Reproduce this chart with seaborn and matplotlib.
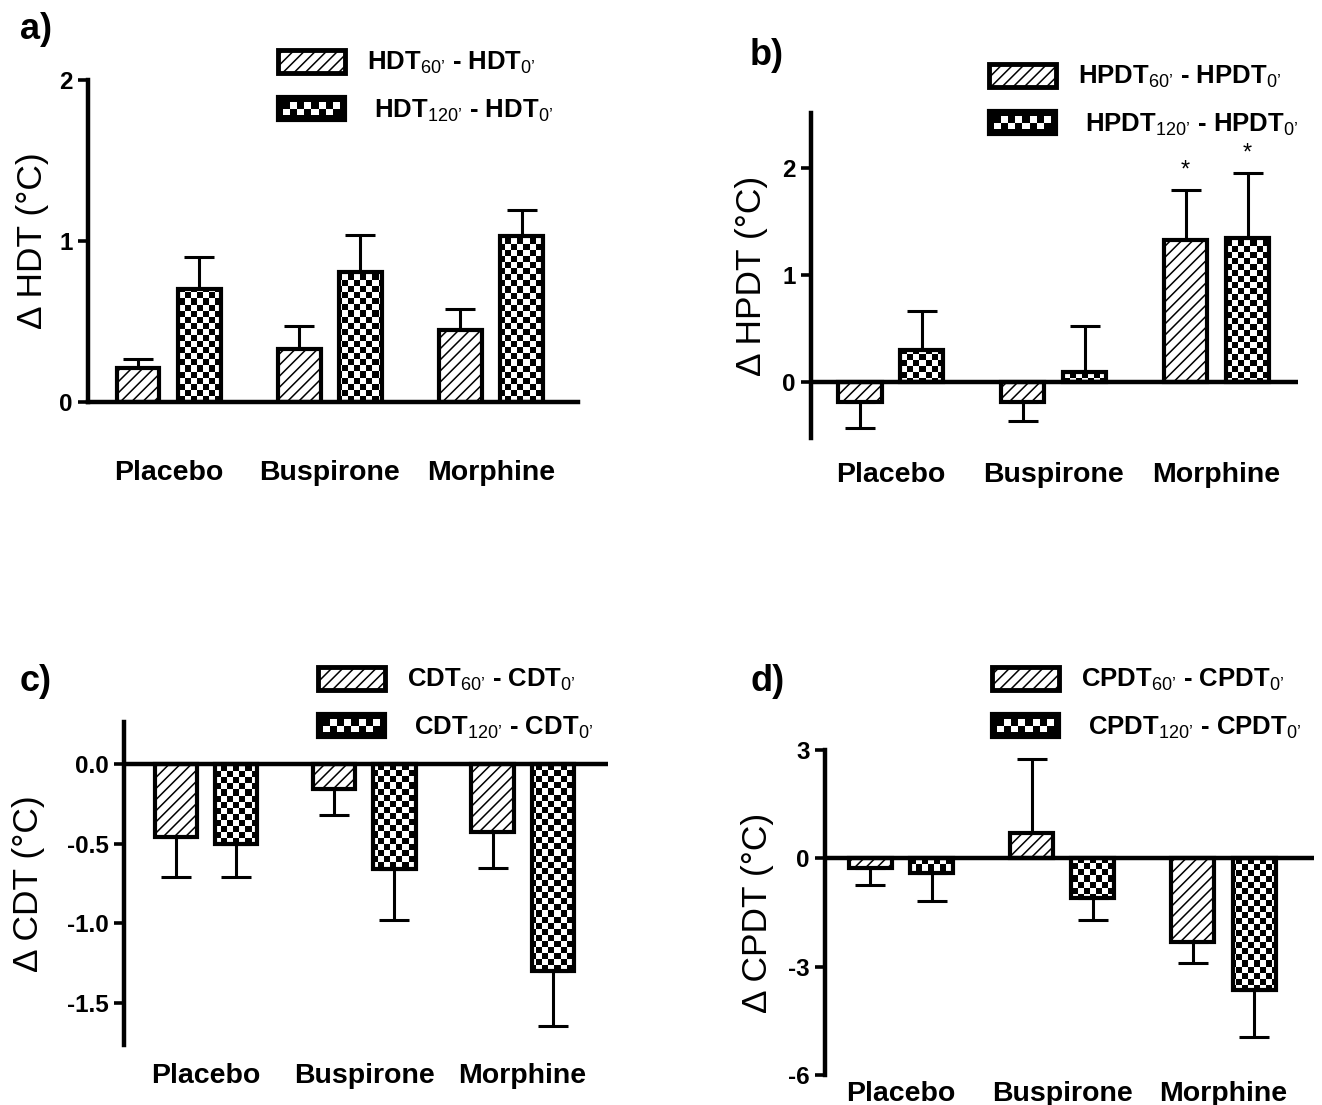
"""Thermal threshold changes after placebo, buspirone and morphine (4 panels)."""

import matplotlib

matplotlib.use("Agg")
import matplotlib.pyplot as plt
import numpy as np
import pandas as pd
import seaborn as sns
from matplotlib.legend_handler import HandlerBase
from matplotlib.patches import Patch, Rectangle
from matplotlib.ticker import FormatStrFormatter

sns.set_theme(style="white", context="notebook")
plt.rcParams["font.family"] = ["Liberation Sans", "DejaVu Sans"]
plt.rcParams["mathtext.fontset"] = "custom"
plt.rcParams["mathtext.rm"] = "Liberation Sans"
plt.rcParams["mathtext.default"] = "rm"
plt.rcParams["axes.unicode_minus"] = False
plt.rcParams["hatch.linewidth"] = 1.1
for key in ["text.color", "axes.labelcolor", "xtick.color", "ytick.color"]:
    plt.rcParams[key] = "black"

# ---- data (mean change and SEM) ----
DRUGS = ["Placebo", "Buspirone", "Morphine"]
INTERVALS = ["60", "120"]

HDT_60 = [0.21, 0.33, 0.45]
HDT_60_SEM = [0.06, 0.14, 0.13]
HDT_120 = [0.70, 0.81, 1.03]
HDT_120_SEM = [0.20, 0.23, 0.16]

HPDT_60 = [-0.19, -0.19, 1.33]
HPDT_60_SEM = [0.25, 0.18, 0.47]
HPDT_120 = [0.30, 0.09, 1.35]
HPDT_120_SEM = [0.36, 0.43, 0.61]
HPDT_STARS_60 = ["", "", "*"]
HPDT_STARS_120 = ["", "", "*"]

CDT_60 = [-0.46, -0.16, -0.43]
CDT_60_SEM = [0.25, 0.16, 0.22]
CDT_120 = [-0.50, -0.66, -1.30]
CDT_120_SEM = [0.21, 0.32, 0.34]

CPDT_60 = [-0.28, 0.71, -2.31]
CPDT_60_SEM = [0.46, 2.03, 0.60]
CPDT_120 = [-0.40, -1.11, -3.65]
CPDT_120_SEM = [0.77, 0.60, 1.29]

NO_STARS = ["", "", ""]

W, H = 1322, 1105

PANELS = [
    dict(letter="a)", name="HDT", m60=HDT_60, s60=HDT_60_SEM, m120=HDT_120, s120=HDT_120_SEM,
         st60=NO_STARS, st120=NO_STARS, yticks=[0, 1, 2], fmt="%d",
         rect=(88, 80, 578, 402), xlim=(-0.5, 2.54), ylim=(0, 2), xpad=42,
         leg=(278, 50), let=(20, 12), ylab_x=33),
    dict(letter="b)", name="HPDT", m60=HPDT_60, s60=HPDT_60_SEM, m120=HPDT_120, s120=HPDT_120_SEM,
         st60=HPDT_STARS_60, st120=HPDT_STARS_120, yticks=[0, 1, 2], fmt="%d",
         rect=(811, 113, 1298, 438), xlim=(-0.49, 2.5), ylim=(-0.53, 2.52), xpad=17,
         leg=(989, 64), let=(750, 38), ylab_x=751),
    dict(letter="c)", name="CDT", m60=CDT_60, s60=CDT_60_SEM, m120=CDT_120, s120=CDT_120_SEM,
         st60=NO_STARS, st120=NO_STARS, yticks=[0, -0.5, -1.0, -1.5], fmt="%.1f",
         rect=(124, 722, 608, 1045), xlim=(-0.52, 2.54), ylim=(-1.76, 0.26), xpad=13,
         leg=(318, 667), let=(20, 664), ylab_x=29),
    dict(letter="d)", name="CPDT", m60=CPDT_60, s60=CPDT_60_SEM, m120=CPDT_120, s120=CPDT_120_SEM,
         st60=NO_STARS, st120=NO_STARS, yticks=[3, 0, -3, -6], fmt="%d",
         rect=(825, 750, 1314, 1075), xlim=(-0.47, 2.56), ylim=(-6, 3), xpad=4,
         leg=(992, 667), let=(750, 664), ylab_x=757),
]


class CheckerHandler(HandlerBase):
    def create_artists(self, legend, orig_handle, xdescent, ydescent, width, height, fontsize, trans):
        x0, y0 = -xdescent, -ydescent
        out = [Rectangle((x0, y0), width, height, facecolor="black", edgecolor="black",
                         lw=3, transform=trans)]
        pad = 0.2 * height
        ncol, nrow = 8, 2
        cw = (width - 2 * pad) / ncol
        ch = (height - 2 * pad) / nrow
        for i in range(nrow):
            for j in range(ncol):
                if (i + j) % 2 == 0:
                    out.append(Rectangle((x0 + pad + j * cw, y0 + pad + i * ch), cw, ch,
                                         facecolor="white", lw=0, transform=trans))
        return out


def add_checker(ax, bar, cell=6):
    box = ax.get_window_extent()
    ncol, nrow = int(box.width / cell), int(box.height / cell)
    grid = np.indices((nrow, ncol)).sum(axis=0) % 2
    x0, x1 = ax.get_xlim()
    y0, y1 = ax.get_ylim()
    im = ax.imshow(grid, cmap="gray_r", vmin=0, vmax=1, extent=(x0, x1, y0, y1),
                   origin="lower", aspect="auto", interpolation="nearest", zorder=1.5)
    im.set_clip_path(bar)
    ax.set_xlim(x0, x1)
    ax.set_ylim(y0, y1)


fig = plt.figure(figsize=(W / 100, H / 100), dpi=100)

for p in PANELS:
    l, t, r, b = p["rect"]
    ax = fig.add_axes([l / W, 1 - b / H, (r - l) / W, (b - t) / H])

    df = pd.DataFrame({
        "drug": DRUGS * 2,
        "interval": ["60"] * 3 + ["120"] * 3,
        "value": p["m60"] + p["m120"],
    })
    sns.barplot(data=df, x="drug", y="value", hue="interval", order=DRUGS,
                hue_order=INTERVALS, palette=["white", "white"], width=0.76, gap=0.3,
                edgecolor="black", linewidth=3.0, errorbar=None, legend=False, ax=ax)
    ax.set_xlim(*p["xlim"])
    ax.set_ylim(*p["ylim"])

    sems = [p["s60"], p["s120"]]
    stars = [p["st60"], p["st120"]]
    bar_groups = [list(c) for c in ax.containers]
    for k, bars in enumerate(bar_groups):
        for i, bar in enumerate(bars):
            bar.set_zorder(2)
            x = bar.get_x() + bar.get_width() / 2
            h = bar.get_height()
            err = [[0], [sems[k][i]]] if h >= 0 else [[sems[k][i]], [0]]
            ax.errorbar(x, h, yerr=err, fmt="none", ecolor="black", elinewidth=2.2,
                        capsize=11, capthick=2.2, zorder=1)
            if stars[k][i]:
                ax.annotate(stars[k][i], (x, h + sems[k][i]), xytext=(0, 14),
                            textcoords="offset points", ha="center", va="center",
                            fontsize=17)
            if k == 0:
                bar.set_hatch("///")
            else:
                add_checker(ax, bar)
                bar.set_facecolor("none")

    for side in ["top", "right"]:
        ax.spines[side].set_visible(False)
    ax.spines["left"].set_linewidth(3.2)
    ax.spines["left"].set_color("black")
    if p["ylim"][0] == 0:
        ax.spines["bottom"].set_linewidth(3.2)
        ax.spines["bottom"].set_color("black")
    else:
        ax.spines["bottom"].set_visible(False)
        ax.axhline(0, color="black", lw=3.2, zorder=3)

    ax.set_yticks(p["yticks"])
    ax.yaxis.set_major_formatter(FormatStrFormatter(p["fmt"]))
    ax.tick_params(axis="y", left=True, length=7, width=2.6, pad=4, labelsize=17.5)
    ax.tick_params(axis="x", bottom=False, length=0, pad=p["xpad"], labelsize=20.5)
    for lab in ax.get_yticklabels() + ax.get_xticklabels():
        lab.set_fontweight("bold")
    ax.set_xlabel("")
    ax.set_ylabel(f"\u0394 {p['name']} (\u00b0C)", fontsize=25.5, va="center")
    ax.yaxis.set_label_coords((p["ylab_x"] - l) / (r - l), 0.5)

    name = p["name"]
    h60 = Patch(facecolor="white", edgecolor="black", hatch="///", lw=3.5)
    h120 = Patch(facecolor="black", edgecolor="black", lw=3.5)
    labels = [f"{name}$_{{60\u2019}}$ - {name}$_{{0\u2019}}$",
              f" {name}$_{{120\u2019}}$ - {name}$_{{0\u2019}}$"]
    lx, ly = p["leg"]
    ax.legend([h60, h120], labels, handler_map={h120: CheckerHandler()},
              loc="upper left", bbox_to_anchor=(lx / W, 1 - ly / H),
              bbox_transform=fig.transFigure, frameon=False, borderpad=0,
              borderaxespad=0, handlelength=2.6, handleheight=1.0,
              handletextpad=0.85, labelspacing=0.8,
              prop={"weight": "bold", "size": 18.5})

    fig.text(p["let"][0] / W, 1 - p["let"][1] / H, p["letter"], fontsize=26,
             fontweight="bold", ha="left", va="top")

fig.savefig("out.png", dpi=100)
